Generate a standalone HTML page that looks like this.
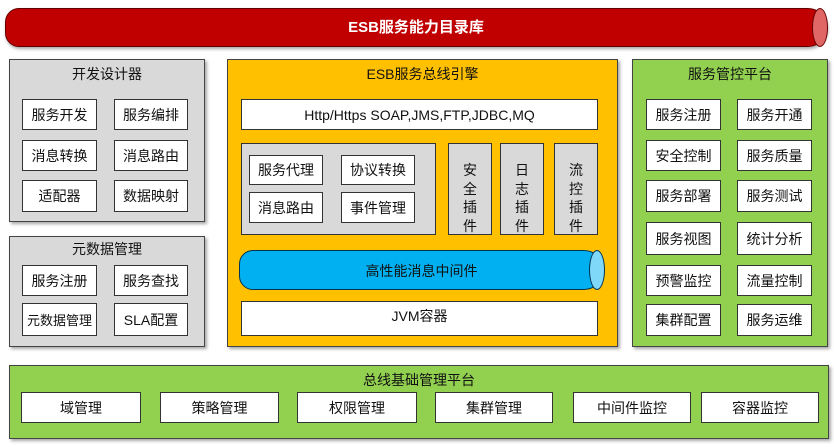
<!DOCTYPE html>
<html><head><meta charset="utf-8"><style>
body{margin:0;width:834px;height:447px;background:#fff;position:relative;overflow:hidden;font-family:"Liberation Sans","Noto Sans CJK SC",sans-serif;}
div{box-sizing:border-box;position:absolute;}
.p{border:1px solid #444;box-shadow:2px 2px 3px rgba(0,0,0,.35);}
.b{background:#fff;border:1px solid #333;font-size:14px;color:#111;display:flex;align-items:center;justify-content:center;white-space:nowrap;}
.t{font-size:14px;color:#111;text-align:center;white-space:nowrap;}
.g{background:#d9d9d9;}
.v{background:#d9d9d9;border:1px solid #333;font-size:14px;line-height:18.5px;text-align:center;padding-top:17px;color:#111;}
</style></head><body>
<div style="left:5px;top:8px;width:822px;height:39px;background:#c00000;border:1px solid #600;border-radius:14px 19px 19px 14px;box-shadow:1px 2px 3px rgba(0,0,0,.35);"></div>
<div style="left:812px;top:8px;width:16px;height:39px;background:#e06666;border:1px solid #600;border-radius:50%;"></div>
<div class="t" style="left:5px;top:16px;width:822px;color:#fff;font-weight:bold;font-size:15px;">ESB服务能力目录库</div>

<div class="p g" style="left:9px;top:59px;width:196px;height:163px;"></div>
<div class="t" style="left:9px;top:64px;width:196px;">开发设计器</div>
<div class="b" style="left:22px;top:99px;width:75px;height:31px;">服务开发</div>
<div class="b" style="left:114px;top:99px;width:74px;height:31px;">服务编排</div>
<div class="b" style="left:22px;top:140px;width:75px;height:31px;">消息转换</div>
<div class="b" style="left:114px;top:140px;width:74px;height:31px;">消息路由</div>
<div class="b" style="left:22px;top:180px;width:75px;height:32px;">适配器</div>
<div class="b" style="left:114px;top:180px;width:74px;height:32px;">数据映射</div>

<div class="p g" style="left:9px;top:236px;width:196px;height:111px;"></div>
<div class="t" style="left:9px;top:239px;width:196px;">元数据管理</div>
<div class="b" style="left:22px;top:265px;width:75px;height:31px;">服务注册</div>
<div class="b" style="left:114px;top:265px;width:74px;height:31px;">服务查找</div>
<div class="b" style="left:22px;top:303px;width:75px;height:33px;font-size:13px;">元数据管理</div>
<div class="b" style="left:114px;top:303px;width:74px;height:33px;">SLA配置</div>

<div class="p" style="left:227px;top:59px;width:391px;height:288px;background:#ffc000;"></div>
<div class="t" style="left:227px;top:64px;width:391px;">ESB服务总线引擎</div>
<div class="b" style="left:241px;top:99px;width:357px;height:31px;">Http/Https SOAP,JMS,FTP,JDBC,MQ</div>
<div class="g" style="left:241px;top:143px;width:195px;height:92px;border:1px solid #333;"></div>
<div class="b" style="left:249px;top:155px;width:74px;height:30px;">服务代理</div>
<div class="b" style="left:341px;top:155px;width:74px;height:30px;">协议转换</div>
<div class="b" style="left:249px;top:192px;width:74px;height:31px;">消息路由</div>
<div class="b" style="left:341px;top:192px;width:74px;height:31px;">事件管理</div>
<div class="v" style="left:448px;top:143px;width:44px;height:92px;">安<br>全<br>插<br>件</div>
<div class="v" style="left:500px;top:143px;width:44px;height:92px;">日<br>志<br>插<br>件</div>
<div class="v" style="left:554px;top:143px;width:44px;height:92px;">流<br>控<br>插<br>件</div>
<div style="left:239px;top:250px;width:365px;height:40px;background:#00b0f0;border:1px solid #035;border-radius:14px 20px 20px 14px;"></div>
<div style="left:589px;top:250px;width:16px;height:40px;background:#7fd8f8;border:1px solid #035;border-radius:50%;"></div>
<div class="t" style="left:239px;top:261px;width:365px;">高性能消息中间件</div>
<div class="b" style="left:241px;top:301px;width:357px;height:35px;align-items:flex-start;padding-top:4px;">JVM容器</div>

<div class="p" style="left:632px;top:59px;width:196px;height:288px;background:#92d050;"></div>
<div class="t" style="left:632px;top:64px;width:196px;">服务管控平台</div>
<div class="b" style="left:646px;top:99px;width:75px;height:31px;">服务注册</div>
<div class="b" style="left:737px;top:99px;width:75px;height:31px;">服务开通</div>
<div class="b" style="left:646px;top:140px;width:75px;height:31px;">安全控制</div>
<div class="b" style="left:737px;top:140px;width:75px;height:31px;">服务质量</div>
<div class="b" style="left:646px;top:180px;width:75px;height:32px;">服务部署</div>
<div class="b" style="left:737px;top:180px;width:75px;height:32px;">服务测试</div>
<div class="b" style="left:646px;top:222px;width:75px;height:33px;">服务视图</div>
<div class="b" style="left:737px;top:222px;width:75px;height:33px;">统计分析</div>
<div class="b" style="left:646px;top:265px;width:75px;height:31px;">预警监控</div>
<div class="b" style="left:737px;top:265px;width:75px;height:31px;">流量控制</div>
<div class="b" style="left:646px;top:304px;width:75px;height:32px;">集群配置</div>
<div class="b" style="left:737px;top:304px;width:75px;height:32px;">服务运维</div>

<div class="p" style="left:9px;top:365px;width:820px;height:74px;background:#92d050;"></div>
<div class="t" style="left:9px;top:370px;width:820px;">总线基础管理平台</div>
<div class="b" style="left:21px;top:392px;width:120px;height:31px;">域管理</div>
<div class="b" style="left:160px;top:392px;width:119px;height:31px;">策略管理</div>
<div class="b" style="left:297px;top:392px;width:120px;height:31px;">权限管理</div>
<div class="b" style="left:435px;top:392px;width:118px;height:31px;">集群管理</div>
<div class="b" style="left:573px;top:392px;width:118px;height:31px;">中间件监控</div>
<div class="b" style="left:701px;top:392px;width:118px;height:31px;">容器监控</div>
</body></html>
